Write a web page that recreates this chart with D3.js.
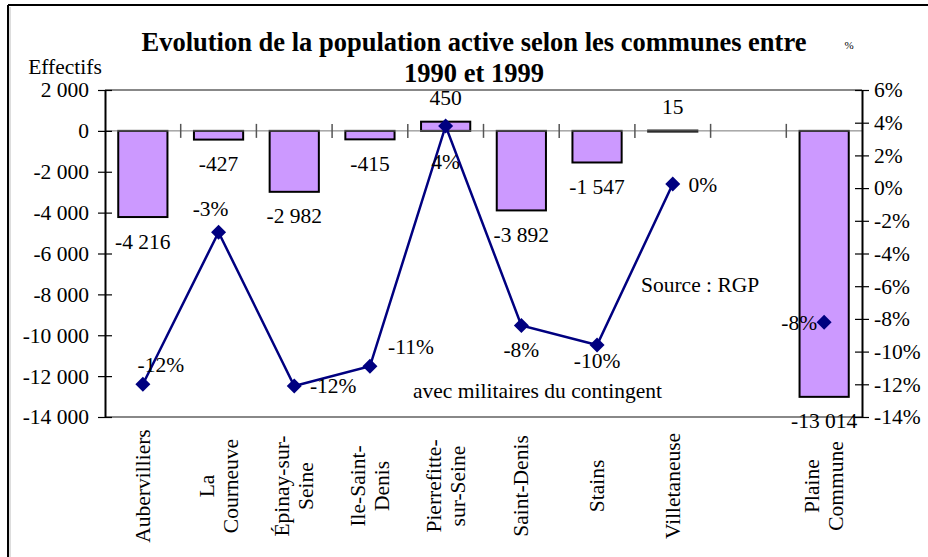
<!DOCTYPE html>
<html>
<head>
<meta charset="utf-8">
<script src="https://cdn.jsdelivr.net/npm/d3@7"></script>
<style>
  body { margin: 0; background: #fff; }
  text { font-family: "Liberation Serif", "Times New Roman", serif; fill: #000; }
</style>
</head>
<body>
<script>
//// DATA
var communes = ["Aubervilliers", "La Courneuve", "Épinay-sur-Seine", "Ile-Saint-Denis",
  "Pierrefitte-sur-Seine", "Saint-Denis", "Stains", "Villetaneuse", "", "Plaine Commune"];
var communeLines = [["Aubervilliers"], ["La", "Courneuve"], ["Épinay-sur-", "Seine"],
  ["Ile-Saint-", "Denis"], ["Pierrefitte-", "sur-Seine"], ["Saint-Denis"], ["Stains"],
  ["Villetaneuse"], [], ["Plaine", "Commune"]];
var effectifs = [-4216, -427, -2982, -415, 450, -3892, -1547, 15, null, -13014];
var evolution = [-0.12, -0.027, -0.121, -0.109, 0.038, -0.084, -0.096, 0.0025, null, -0.082];

// where each % label sits relative to its marker (px)
var pctOffsets = [[18, -20], [-8, -24], [39, 0], [41, -20], [0, 36], [0, 24], [0, 15], [30, 0], null, [-25, 0]];

//// SETUP
var width = 928, height = 557;
var plot = {left: 105, right: 862, top: 90, bottom: 417};
var fs = "21.5px";

var fr = d3.formatLocale({decimal: ",", thousands: " ", grouping: [3], currency: ["", " €"], minus: "-"});
var fmtNum = fr.format(",.0f"),
    fmtPct = fr.format(".0%");

var x = d3.scaleBand().domain(communes).range([plot.left, plot.right])
    .paddingInner(0.35).paddingOuter(0.175);
var yL = d3.scaleLinear().domain([-14000, 2000]).range([plot.bottom, plot.top]);
var yR = d3.scaleLinear().domain([-0.14, 0.06]).range([plot.bottom, plot.top]);
var cx = function(i) { return x(communes[i]) + x.bandwidth() / 2; };
var step = x.step();

var svg = d3.select("body").append("svg")
    .attr("width", width)
    .attr("height", height);

// outer frame (top + left visible)
svg.append("line").attr("x1", 8).attr("y1", 5).attr("x2", width + 2).attr("y2", 5)
    .attr("stroke", "#000").attr("stroke-width", 2);
svg.append("line").attr("x1", 8).attr("y1", 5).attr("x2", 8).attr("y2", height + 2)
    .attr("stroke", "#000").attr("stroke-width", 2);
svg.append("line").attr("x1", 10).attr("y1", 7).attr("x2", 10).attr("y2", height + 2)
    .attr("stroke", "#bbb").attr("stroke-width", 1);

// plot area border top/bottom (grey)
[plot.top, plot.bottom].forEach(function(yy) {
  svg.append("line").attr("x1", plot.left).attr("x2", plot.right)
      .attr("y1", yy).attr("y2", yy)
      .attr("stroke", "#888").attr("stroke-width", 2);
});

//// BARS
var barData = effectifs.map(function(v, i) { return {v: v, i: i}; })
    .filter(function(d) { return d.v != null; });

svg.selectAll(".bar")
    .data(barData)
  .enter().append("rect")
    .attr("class", "bar")
    .attr("x", function(d) { return x(communes[d.i]); })
    .attr("width", x.bandwidth())
    .attr("y", function(d) { return Math.min(yL(d.v), yL(0)); })
    .attr("height", function(d) { return Math.max(Math.abs(yL(d.v) - yL(0)), 1); })
    .attr("fill", "#cc99ff")
    .attr("stroke", "#000")
    .attr("stroke-width", 2);

// zero line with category ticks
svg.append("line").attr("x1", plot.left).attr("x2", plot.right)
    .attr("y1", yL(0)).attr("y2", yL(0))
    .attr("stroke", "#777").attr("stroke-width", 1);
d3.range(1, communes.length).forEach(function(k) {
  var xx = plot.left + k * step;
  svg.append("line").attr("x1", xx).attr("x2", xx)
      .attr("y1", yL(0) - 7).attr("y2", yL(0) + 7)
      .attr("stroke", "#555").attr("stroke-width", 1.5);
});

// bar value labels
svg.selectAll(".barlabel")
    .data(barData)
  .enter().append("text")
    .attr("class", "barlabel")
    .attr("x", function(d) { return cx(d.i); })
    .attr("y", function(d) { return yL(d.v) + (d.v < 0 ? 24 : -24); })
    .attr("dy", "0.35em")
    .attr("text-anchor", "middle")
    .style("font-size", fs)
    .text(function(d) { return fmtNum(d.v); });

//// AXES
var left = svg.append("g")
    .attr("transform", "translate(" + plot.left + ",0)")
    .call(d3.axisLeft(yL).tickValues(d3.range(-14000, 2001, 2000)).tickFormat(fmtNum).tickSizeOuter(0));
var right = svg.append("g")
    .attr("transform", "translate(" + plot.right + ",0)")
    .call(d3.axisRight(yR).ticks(10).tickFormat(fmtPct).tickSizeOuter(0));

[left, right].forEach(function(g) {
  g.select(".domain").attr("stroke", "#000").attr("stroke-width", 2);
  g.selectAll(".tick line").attr("x1", -7).attr("x2", 7).attr("stroke", "#000").attr("stroke-width", 1.2);
  g.selectAll(".tick text").style("font-size", fs);
});
left.selectAll(".tick text").attr("x", -16);
right.selectAll(".tick text").attr("x", 12);
svg.selectAll("g").attr("font-family", null).attr("font-size", null);

//// LINE
var pts = evolution.map(function(v, i) { return {v: v, i: i}; });
var line = d3.line()
    .defined(function(d) { return d.v != null; })
    .x(function(d) { return cx(d.i); })
    .y(function(d) { return yR(d.v); });

svg.append("path")
    .datum(pts)
    .attr("d", line)
    .attr("fill", "none")
    .attr("stroke", "#000080")
    .attr("stroke-width", 2.5);

var valid = pts.filter(function(d) { return d.v != null; });
svg.selectAll(".marker")
    .data(valid)
  .enter().append("path")
    .attr("class", "marker")
    .attr("d", "M0,-7.5L7.5,0L0,7.5L-7.5,0Z")
    .attr("transform", function(d) { return "translate(" + cx(d.i) + "," + yR(d.v) + ")"; })
    .attr("fill", "#000080");

svg.selectAll(".pctlabel")
    .data(valid)
  .enter().append("text")
    .attr("class", "pctlabel")
    .attr("x", function(d) { return cx(d.i) + pctOffsets[d.i][0]; })
    .attr("y", function(d) { return yR(d.v) + pctOffsets[d.i][1]; })
    .attr("dy", "0.35em")
    .attr("text-anchor", "middle")
    .style("font-size", fs)
    .text(function(d) { return fmtPct(d.v); });

//// CATEGORY LABELS
communeLines.forEach(function(lines, i) {
  var n = lines.length;
  lines.forEach(function(t, j) {
    var xx = cx(i) + (j - (n - 1) / 2) * 24;
    svg.append("text")
        .attr("transform", "translate(" + (xx + 7) + ",486) rotate(-90)")
        .attr("text-anchor", "middle")
        .style("font-size", fs)
        .text(t);
  });
});

//// TITLES & NOTES
svg.append("text").attr("x", 474).attr("y", 51).attr("text-anchor", "middle")
    .style("font-size", "26.5px").style("font-weight", "bold")
    .text("Evolution de la population active selon les communes entre");
svg.append("text").attr("x", 474).attr("y", 82).attr("text-anchor", "middle")
    .style("font-size", "26.5px").style("font-weight", "bold")
    .text("1990 et 1999");
svg.append("text").attr("x", 65).attr("y", 74).attr("text-anchor", "middle")
    .style("font-size", fs).text("Effectifs");
svg.append("text").attr("x", 849).attr("y", 49).attr("text-anchor", "middle")
    .style("font-size", "11px").text("%");
svg.append("text").attr("x", 641).attr("y", 292)
    .style("font-size", fs).text("Source : RGP");
svg.append("text").attr("x", 662).attr("y", 398).attr("text-anchor", "end")
    .style("font-size", fs).text("avec militaires du contingent");
</script>
</body>
</html>
